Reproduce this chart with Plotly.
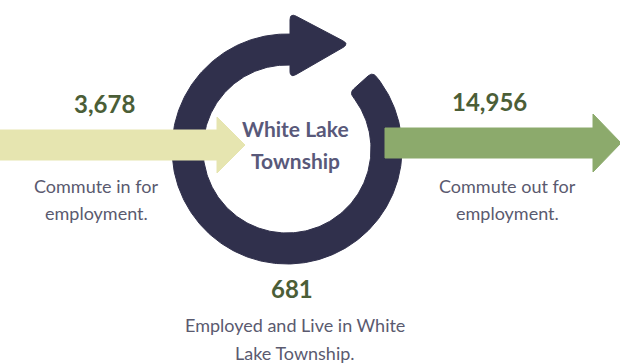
import numpy as np
import plotly.graph_objects as go

# ---- data ----
flow_keys = ["in", "out", "both"]
flow_values = [3678, 14956, 681]
flow_value_labels = ["3,678", "14,956", "681"]
flow_descriptions = [
    ["Commute in for", "employment."],
    ["Commute out for", "employment."],
    ["Employed and Live in White", "Lake Township."],
]
center_label = ["White Lake", "Township"]

# ---- styles ----
RING = "#30304c"
YELLOW = "#e6e5b0"
GREEN = "#8caa6c"
NUM_COLOR = "#4b5e37"
TXT_COLOR = "#5a5a6f"
CENTER_COLOR = "#59597a"
FONT = "Lato"

W, H = 620, 364
cx, cy = 287, 149
r_out, r_in = 115, 84


def round_poly(pts, rad, n=8):
    pts = np.asarray(pts, float)
    out = []
    m = len(pts)
    for i in range(m):
        p0, p1, p2 = pts[i - 1], pts[i], pts[(i + 1) % m]
        d0 = p0 - p1
        d2 = p2 - p1
        a = p1 + d0 / np.linalg.norm(d0) * min(rad, np.linalg.norm(d0) / 2)
        b = p1 + d2 / np.linalg.norm(d2) * min(rad, np.linalg.norm(d2) / 2)
        for t in np.linspace(0, 1, n):
            out.append((1 - t) ** 2 * a + 2 * (1 - t) * t * p1 + t ** 2 * b)
    out.append(out[0])
    out = np.array(out)
    return out[:, 0], out[:, 1]


def bez(a, c, b, n=8):
    t = np.linspace(0, 1, n)[:, None]
    return (1 - t) ** 2 * a + 2 * (1 - t) * t * c + t ** 2 * b


def pt(r, deg):
    a = np.radians(deg)
    return np.array([cx + r * np.cos(a), cy - r * np.sin(a)])


fig = go.Figure()

# ring arc (clockwise from upper right, around bottom, to the top), rounded end cap
t0, t1, cap_r = 42.0, -272.0, 6.0
po, pi = pt(r_out, t0), pt(r_in, t0)
u = (pi - po) / np.linalg.norm(pi - po)
outer_corner = bez(po + u * cap_r, po, pt(r_out, t0 - np.degrees(cap_r / r_out)))
inner_corner = bez(pt(r_in, t0 - np.degrees(cap_r / r_in)), pi, pi - u * cap_r)
th_o = np.linspace(t0 - np.degrees(cap_r / r_out), t1, 300)
th_i = np.linspace(t1, t0 - np.degrees(cap_r / r_in), 300)
outer_arc = np.array([pt(r_out, d) for d in th_o])
inner_arc = np.array([pt(r_in, d) for d in th_i])
ring = np.vstack([outer_corner, outer_arc, inner_arc, inner_corner, outer_corner[:1]])
fig.add_trace(go.Scatter(
    x=ring[:, 0], y=ring[:, 1],
    mode="lines", fill="toself", fillcolor=RING, line=dict(color=RING, width=1),
    hoverinfo="skip"))

# ring arrowhead
hx, hy = round_poly([(290, 13), (349, 44), (290, 78)], 7)
fig.add_trace(go.Scatter(x=hx, y=hy, mode="lines", fill="toself", fillcolor=RING,
                         line=dict(color=RING, width=1), hoverinfo="skip"))


def arrow(x0, x1, xt, ymid, shaft_h, head_h):
    ys0, ys1 = ymid - shaft_h / 2, ymid + shaft_h / 2
    yh0, yh1 = ymid - head_h / 2, ymid + head_h / 2
    xs = [x0, x1, x1, xt, x1, x1, x0, x0]
    ys = [ys0, ys0, yh0, ymid, yh1, ys1, ys1, ys0]
    return xs, ys


ax, ay = arrow(0, 217, 245, 145, 30, 56)
fig.add_trace(go.Scatter(x=ax, y=ay, mode="lines", fill="toself", fillcolor=YELLOW,
                         line=dict(color=YELLOW, width=1), hoverinfo="skip"))
ax, ay = arrow(385, 593, 621, 143, 30, 58)
fig.add_trace(go.Scatter(x=ax, y=ay, mode="lines", fill="toself", fillcolor=GREEN,
                         line=dict(color=GREEN, width=1), hoverinfo="skip"))

# ---- text ----
num_pos = {"in": (104, 103), "out": (489, 101), "both": (292, 288)}
desc_pos = {"in": (96, [186, 213]), "out": (507, [186, 213]), "both": (295, [325, 353])}

ann = []
for k, lbl, desc in zip(flow_keys, flow_value_labels, flow_descriptions):
    x, y = num_pos[k]
    ann.append(dict(x=x, y=y, text=lbl, showarrow=False,
                    font=dict(family=FONT, size=24, color=NUM_COLOR, weight="bold")))
    dx, dys = desc_pos[k]
    for line, dy in zip(desc, dys):
        ann.append(dict(x=dx, y=dy, text=line, showarrow=False,
                        font=dict(family=FONT, size=18, color=TXT_COLOR)))

for line, y in zip(center_label, [128, 160]):
    ann.append(dict(x=295, y=y, text=line, showarrow=False,
                    font=dict(family=FONT, size=21, color=CENTER_COLOR, weight="bold")))

fig.update_layout(
    width=W, height=H, margin=dict(l=0, r=0, t=0, b=0),
    paper_bgcolor="white", plot_bgcolor="white", showlegend=False,
    xaxis=dict(range=[0, W], visible=False, fixedrange=True),
    yaxis=dict(range=[H, 0], visible=False, fixedrange=True),
    annotations=ann,
)
fig.write_html("out.html", config={"displayModeBar": False},
               post_script="document.body.style.margin='0';document.body.style.overflow='hidden';")
